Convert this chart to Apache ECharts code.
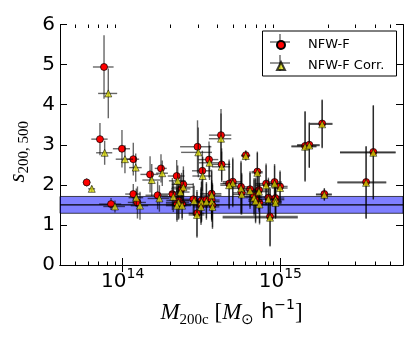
<!DOCTYPE html>
<html>
<head>
<meta charset="utf-8">
<script src="https://cdn.jsdelivr.net/npm/echarts@6/dist/echarts.min.js"></script>
<style>
  html, body { margin: 0; padding: 0; background: #fff; }
  #chart { width: 415px; height: 346px; }
</style>
</head>
<body>
<div id="chart"></div>
<script>
// masses in units of 1e14 Msun/h, errors symmetric (1 sigma)
const massF = [0.761, 0.717, 0.989, 1.167, 1.491, 1.749, 2.200, 2.982, 4.203, 3.527, 4.243, 3.200, 6.034, 0.5905, 0.843,
  1.167, 1.240, 1.665, 2.065, 2.426, 2.360, 2.271, 2.209, 2.382, 2.803, 2.959, 3.161, 3.396, 3.666, 3.139, 3.711, 3.666, 7.147, 4.992,
  4.731, 5.630, 5.686, 6.423, 7.318, 6.813, 6.963, 7.379, 8.120, 9.190, 9.959, 8.398, 9.318, 9.318, 8.604, 19.02, 35.0, 38.9, 14.35, 15.27, 18.42];
const massErrF = [0.114, 0.085, 0.123, 0.104, 0.196, 0.153, 0.27, 0.67, 0.68, 0.51, 0.565, 0.45, 0.40, 0.032, 0.135,
  0.13, 0.163, 0.27, 0.33, 0.38, 0.33, 0.38, 0.33, 0.33, 0.39, 0.34, 0.39, 0.45, 0.45, 0.34, 0.39, 0.56, 0.58, 0.68,
  0.57, 0.91, 0.68, 0.81, 1.04, 0.81, 0.70, 0.93, 1.16, 1.04, 1.16, 1.04, 1.28, 0.93, 4.3, 2.2, 12.0, 15.0, 2.6, 2.5, 3.0];
const sF = [4.94, 3.14, 2.90, 2.64, 2.26, 2.41, 2.22, 2.95, 3.24, 2.63, 2.51, 2.35, 2.74, 2.06, 1.52,
  1.77, 1.56, 1.74, 1.77, 2.01, 1.90, 1.61, 1.52, 1.52, 1.64, 1.29, 1.61, 1.62, 1.62, 1.49, 1.49, 1.78, 2.33, 2.08,
  2.03, 1.95, 1.80, 1.89, 1.87, 1.72, 1.63, 1.55, 2.03, 2.07, 1.96, 1.68, 1.67, 1.59, 1.21, 1.77, 2.07, 2.82, 2.97, 3.00, 3.53];
const sErrF = [0.79, 0.40, 0.47, 0.41, 0.45, 0.35, 0.40, 0.66, 0.65, 0.45, 0.40, 0.50, 0.12, 0.10, 0.15,
  0.25, 0.40, 0.35, 0.40, 0.45, 0.40, 0.45, 0.40, 0.35, 0.40, 0.58, 0.50, 0.45, 0.50, 0.45, 0.55, 0.60, 0.50, 0.60,
  0.60, 0.65, 0.50, 0.45, 0.50, 0.45, 0.55, 0.50, 0.50, 0.45, 0.40, 0.50, 0.45, 0.40, 0.73, 0.15, 0.90, 1.17, 0.87, 0.56, 0.60];

const massC = [0.810, 0.768, 1.033, 1.209, 1.528, 1.782, 2.233, 3.016, 4.203, 3.554, 4.243, 3.217, 6.034, 0.636, 0.893,
  1.219, 1.287, 1.709, 2.094, 2.426, 2.326, 2.259, 2.209, 2.382, 2.837, 2.959, 3.161, 3.396, 3.666, 3.139, 3.711, 3.666, 7.147, 4.992,
  4.731, 5.630, 5.686, 6.423, 7.318, 6.813, 6.963, 7.379, 8.120, 9.190, 9.959, 8.398, 9.318, 9.318, 8.604, 19.02, 35.0, 38.9, 14.35, 15.27, 18.42];
const massErrC = [0.112, 0.09, 0.13, 0.11, 0.196, 0.153, 0.27, 0.67, 0.68, 0.51, 0.565, 0.45, 0.40, 0.032, 0.14,
  0.13, 0.163, 0.27, 0.33, 0.38, 0.33, 0.38, 0.33, 0.33, 0.39, 0.34, 0.39, 0.45, 0.45, 0.34, 0.39, 0.56, 0.58, 0.68,
  0.57, 0.91, 0.68, 0.81, 1.04, 0.81, 0.70, 0.93, 1.16, 1.04, 1.16, 1.04, 1.28, 0.93, 4.3, 2.2, 12.0, 15.0, 2.6, 2.5, 3.0];
const sC = [4.28, 2.80, 2.64, 2.43, 2.12, 2.29, 2.10, 2.81, 3.15, 2.55, 2.45, 2.22, 2.72, 1.90, 1.46,
  1.68, 1.48, 1.66, 1.70, 1.94, 1.82, 1.56, 1.48, 1.48, 1.60, 1.25, 1.57, 1.58, 1.58, 1.45, 1.45, 1.74, 2.30, 2.04,
  1.99, 1.91, 1.76, 1.85, 1.83, 1.68, 1.59, 1.51, 1.99, 2.03, 1.92, 1.64, 1.63, 1.55, 1.18, 1.75, 2.05, 2.80, 2.95, 2.98, 3.51];
const sErrC = [0.62, 0.30, 0.35, 0.35, 0.40, 0.32, 0.38, 0.62, 0.63, 0.43, 0.38, 0.48, 0.12, 0.08, 0.15,
  0.23, 0.35, 0.33, 0.38, 0.43, 0.38, 0.43, 0.40, 0.35, 0.38, 0.57, 0.50, 0.45, 0.50, 0.45, 0.55, 0.60, 0.50, 0.60,
  0.60, 0.65, 0.50, 0.45, 0.50, 0.45, 0.55, 0.50, 0.50, 0.45, 0.40, 0.50, 0.45, 0.40, 0.72, 0.15, 0.90, 1.17, 0.87, 0.56, 0.60];

// shaded band (mean and scatter)
const bandLow = 1.29, bandMid = 1.5, bandHigh = 1.71;

// axis range / ticks (mass in 1e14 Msun/h)
const massMin = 0.4, massMax = 60;
const majorMass = [1, 10];
const minorMass = [0.5, 0.6, 0.7, 0.8, 0.9, 2, 3, 4, 5, 6, 7, 8, 9, 20, 30, 40, 50];
const yTicks = [0, 1, 2, 3, 4, 5, 6];

const lg = m => 14 + Math.log10(m);
const xMin = lg(massMin), xMax = lg(massMax);

const chart = echarts.init(document.getElementById('chart'), null, { renderer: 'canvas' });

const barStyle = { stroke: 'rgba(0,0,0,0.6)', lineWidth: 1.4 };

function errorBars(name, mass, mErr, s, sErr, z) {
  const data = mass.map((m, i) => [lg(m), s[i], lg(m - mErr[i]), lg(m + mErr[i]), s[i] - sErr[i], s[i] + sErr[i]]);
  return {
    type: 'custom', name: name, z: z, silent: true,
    xAxisIndex: 0, yAxisIndex: 0,
    encode: { x: [0, 2, 3], y: [1, 4, 5] },
    renderItem: function (params, api) {
      const x = api.value(0), y = api.value(1);
      const l = api.coord([api.value(2), y]);
      const r = api.coord([api.value(3), y]);
      const b = api.coord([x, api.value(4)]);
      const t = api.coord([x, api.value(5)]);
      return {
        type: 'group', children: [
          { type: 'line', shape: { x1: l[0], y1: l[1], x2: r[0], y2: r[1] }, style: barStyle },
          { type: 'line', shape: { x1: b[0], y1: b[1], x2: t[0], y2: t[1] }, style: barStyle }
        ]
      };
    },
    data: data
  };
}

const gridRect = { left: 60, right: 12, top: 24.5, bottom: 81, outerBoundsMode: 'none' };
const axisLineK = { show: true, lineStyle: { color: '#000', width: 1 } };
const serif = 'Liberation Serif';

const option = {
  animation: false,
  backgroundColor: '#fff',
  grid: [Object.assign({}, gridRect), Object.assign({}, gridRect)],
  xAxis: [
    {
      gridIndex: 0, type: 'value', position: 'bottom', min: xMin, max: xMax,
      axisLine: axisLineK, splitLine: { show: false },
      axisTick: { inside: true, length: 7, customValues: majorMass.map(lg), lineStyle: { color: '#000' } },
      axisLabel: {
        customValues: majorMass.map(lg), margin: 2,
        formatter: v => '{b|10}{s|' + Math.round(v) + '}',
        rich: {
          b: { fontSize: 20, fontFamily: 'DejaVu Sans', color: '#000', lineHeight: 30 },
          s: { fontSize: 14, fontFamily: 'DejaVu Sans', color: '#000', lineHeight: 10, verticalAlign: 'top' }
        }
      },
      name: '{i|M}{sub|200c}{r| [}{i|M}{sub|⊙}{h| h}{sup|−1}{r|]}',
      nameLocation: 'middle', nameGap: 33,
      nameTextStyle: {
        rich: {
          i: { fontSize: 23, fontFamily: serif, fontStyle: 'italic', color: '#000', lineHeight: 30 },
          sub: { fontSize: 15, fontFamily: serif, color: '#000', lineHeight: 17, verticalAlign: 'bottom' },
          r: { fontSize: 23, fontFamily: serif, color: '#000', lineHeight: 30 },
          h: { fontSize: 21, fontFamily: 'DejaVu Sans', color: '#000', lineHeight: 30 },
          sup: { fontSize: 14, fontFamily: 'DejaVu Sans', color: '#000', lineHeight: 14, verticalAlign: 'top' }
        }
      }
    },
    {
      gridIndex: 0, type: 'value', position: 'top', min: xMin, max: xMax,
      axisLine: axisLineK, splitLine: { show: false }, axisLabel: { show: false },
      axisTick: { inside: true, length: 7, customValues: majorMass.map(lg), lineStyle: { color: '#000' } }
    },
    {
      gridIndex: 1, type: 'value', position: 'bottom', min: xMin, max: xMax,
      axisLine: { show: false }, splitLine: { show: false }, axisLabel: { show: false },
      axisTick: { inside: true, length: 3.5, customValues: minorMass.map(lg), lineStyle: { color: '#000' } }
    },
    {
      gridIndex: 1, type: 'value', position: 'top', min: xMin, max: xMax,
      axisLine: { show: false }, splitLine: { show: false }, axisLabel: { show: false },
      axisTick: { inside: true, length: 3.5, customValues: minorMass.map(lg), lineStyle: { color: '#000' } }
    }
  ],
  yAxis: [
    {
      gridIndex: 0, type: 'value', position: 'left', min: 0, max: 6, interval: 1,
      axisLine: axisLineK, splitLine: { show: false },
      axisTick: { inside: true, length: 7, lineStyle: { color: '#000' } },
      axisLabel: { fontSize: 20, fontFamily: 'DejaVu Sans', color: '#000', margin: 5, customValues: yTicks },
      name: '{i|s}{sub|200, 500}',
      nameLocation: 'middle', nameGap: 23, nameRotate: 90,
      nameTextStyle: {
        padding: [0, 14, 0, 0],
        rich: {
          i: { fontSize: 23, fontFamily: serif, fontStyle: 'italic', color: '#000', lineHeight: 26 },
          sub: { fontSize: 15, fontFamily: serif, color: '#000', lineHeight: 15, verticalAlign: 'bottom' }
        }
      }
    },
    {
      gridIndex: 0, type: 'value', position: 'right', min: 0, max: 6, interval: 1,
      axisLine: axisLineK, splitLine: { show: false }, axisLabel: { show: false },
      axisTick: { inside: true, length: 7, lineStyle: { color: '#000' } }
    },
    { gridIndex: 1, type: 'value', min: 0, max: 6, show: false }
  ],
  legend: {
    orient: 'vertical', left: 276, top: 38, padding: 0, itemGap: 7,
    itemWidth: 8, itemHeight: 8,
    data: ['NFW-F', 'NFW-F Corr.'],
    textStyle: { fontSize: 13, fontFamily: 'DejaVu Sans', color: '#000', padding: [0, 0, 0, 18], lineHeight: 14 },
    z: 10
  },
  graphic: [
    { type: 'rect', z: 8, shape: { x: 262.5, y: 31, width: 134, height: 45 }, style: { fill: '#fff', stroke: '#000', lineWidth: 1 } },
    { type: 'line', z: 9, shape: { x1: 270, y1: 42, x2: 290, y2: 42 }, style: barStyle },
    { type: 'line', z: 9, shape: { x1: 280, y1: 34, x2: 280, y2: 50 }, style: barStyle },
    { type: 'line', z: 9, shape: { x1: 270, y1: 63, x2: 290, y2: 63 }, style: barStyle },
    { type: 'line', z: 9, shape: { x1: 280, y1: 55, x2: 280, y2: 71 }, style: barStyle }
  ],
  series: [
    {
      type: 'custom', name: 'band', z: 1, silent: true, xAxisIndex: 0, yAxisIndex: 0,
      encode: { x: [0, 1], y: [2, 3, 4] },
      renderItem: function (params, api) {
        const lo = api.coord([api.value(0), api.value(2)]);
        const mid = api.coord([api.value(1), api.value(3)]);
        const hi = api.coord([api.value(1), api.value(4)]);
        return {
          type: 'group', children: [
            { type: 'rect', shape: { x: lo[0], y: hi[1], width: hi[0] - lo[0], height: lo[1] - hi[1] },
              style: { fill: 'rgba(0,0,255,0.5)', stroke: 'rgba(0,0,0,0.7)', lineWidth: 1 } },
            { type: 'line', shape: { x1: lo[0], y1: mid[1], x2: hi[0], y2: mid[1] },
              style: { stroke: '#000', lineWidth: 1.2 } }
          ]
        };
      },
      data: [[xMin, xMax, bandLow, bandMid, bandHigh]]
    },
    errorBars('errF', massF, massErrF, sF, sErrF, 2),
    {
      type: 'scatter', name: 'NFW-F', z: 3, xAxisIndex: 0, yAxisIndex: 0,
      symbol: 'circle', symbolSize: 7,
      itemStyle: { color: '#ff0000', borderColor: '#000', borderWidth: 0.7, opacity: 1 },
      data: massF.map((m, i) => [lg(m), sF[i]])
    },
    errorBars('errC', massC, massErrC, sC, sErrC, 4),
    {
      type: 'scatter', name: 'NFW-F Corr.', z: 5, xAxisIndex: 0, yAxisIndex: 0,
      symbol: 'triangle', symbolSize: 7,
      itemStyle: { color: 'rgb(220,220,0)', borderColor: '#000', borderWidth: 0.7, opacity: 0.75 },
      data: massC.map((m, i) => [lg(m), sC[i]])
    }
  ]
};

chart.setOption(option);
</script>
</body>
</html>
